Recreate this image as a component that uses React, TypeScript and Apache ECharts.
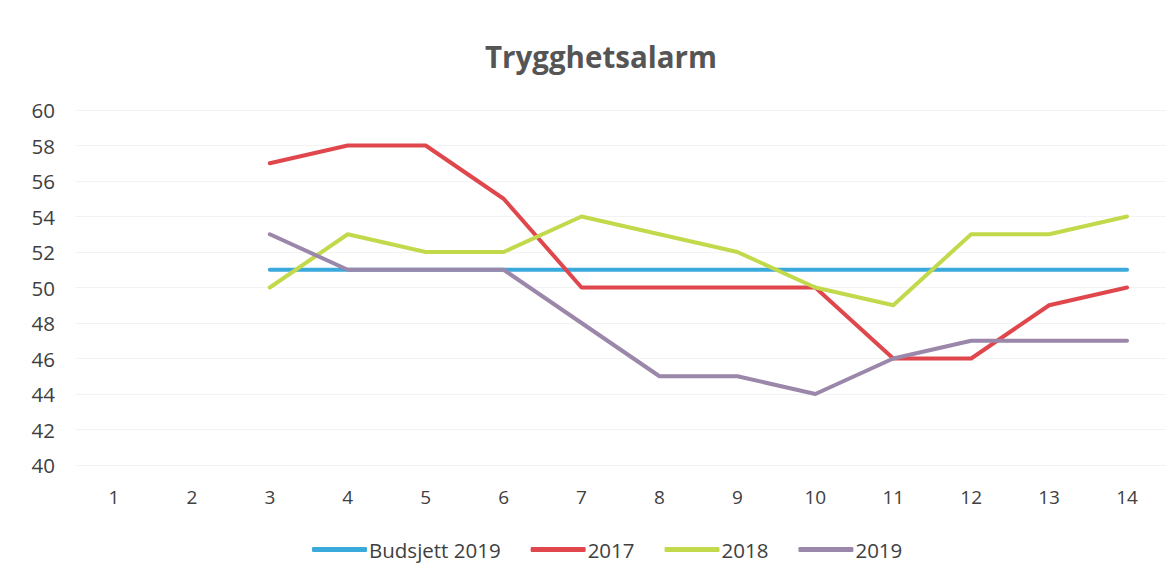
import React, { useEffect, useRef } from "react";
import * as echarts from "echarts";

const categories = ["1", "2", "3", "4", "5", "6", "7", "8", "9", "10", "11", "12", "13", "14"];
const budsjett2019 = [null, null, 51, 51, 51, 51, 51, 51, 51, 51, 51, 51, 51, 51];
const s2017 = [null, null, 57, 58, 58, 55, 50, 50, 50, 50, 46, 46, 49, 50];
const s2018 = [null, null, 50, 53, 52, 52, 54, 53, 52, 50, 49, 53, 53, 54];
const s2019 = [null, null, 53, 51, 51, 51, 48, 45, 45, 44, 46, 47, 47, 47];

const FONT = "'Open Sans', sans-serif";

export default function App() {
  const ref = useRef<HTMLDivElement>(null);
  useEffect(() => {
    document.body.style.margin = "0";
    const chart = echarts.init(ref.current!, null, { renderer: "svg" });
    const mk = (name: string, data: (number | null)[], color: string) => ({
      name,
      type: "line",
      data,
      symbol: "none",
      lineStyle: { width: 4, color, cap: "round", join: "round" },
      itemStyle: { color },
      connectNulls: false,
    });
    chart.setOption({
      animation: false,
      backgroundColor: "#ffffff",
      title: {
        text: "Trygghetsalarm",
        left: 485,
        top: 41,
        padding: 0,
        textStyle: { fontFamily: FONT, fontSize: 29.5, fontWeight: "bold", color: "#555555" },
      },
      grid: { left: 75, right: 7, top: 110, bottom: 98 },
      legend: {
        top: 539,
        left: 312,
        padding: 0,
        itemWidth: 55,
        itemHeight: 5,
        itemGap: 30,
        icon: "roundRect",
        textStyle: { fontFamily: FONT, fontSize: 20.5, color: "#404040", padding: [0, 0, 0, -3] },
        data: ["Budsjett 2019", "2017", "2018", "2019"],
      },
      xAxis: {
        type: "category",
        data: categories,
        boundaryGap: true,
        axisLine: { show: false },
        axisTick: { show: false },
        axisLabel: { fontFamily: FONT, fontSize: 19, color: "#404040", margin: 22 },
      },
      yAxis: {
        type: "value",
        min: 40,
        max: 60,
        interval: 2,
        axisLine: { show: false },
        axisTick: { show: false },
        axisLabel: { fontFamily: FONT, fontSize: 20.5, color: "#404040", margin: 20 },
        splitLine: { lineStyle: { color: "#f3f3f3", width: 1 } },
      },
      series: [
        mk("Budsjett 2019", budsjett2019, "#3aa9dc"),
        mk("2017", s2017, "#e0474c"),
        mk("2018", s2018, "#c2d94c"),
        mk("2019", s2019, "#9b87a9"),
      ],
    });
    return () => chart.dispose();
  }, []);
  return <div ref={ref} style={{ position: "absolute", left: 0, top: 0, width: 1173, height: 563 }} />;
}
